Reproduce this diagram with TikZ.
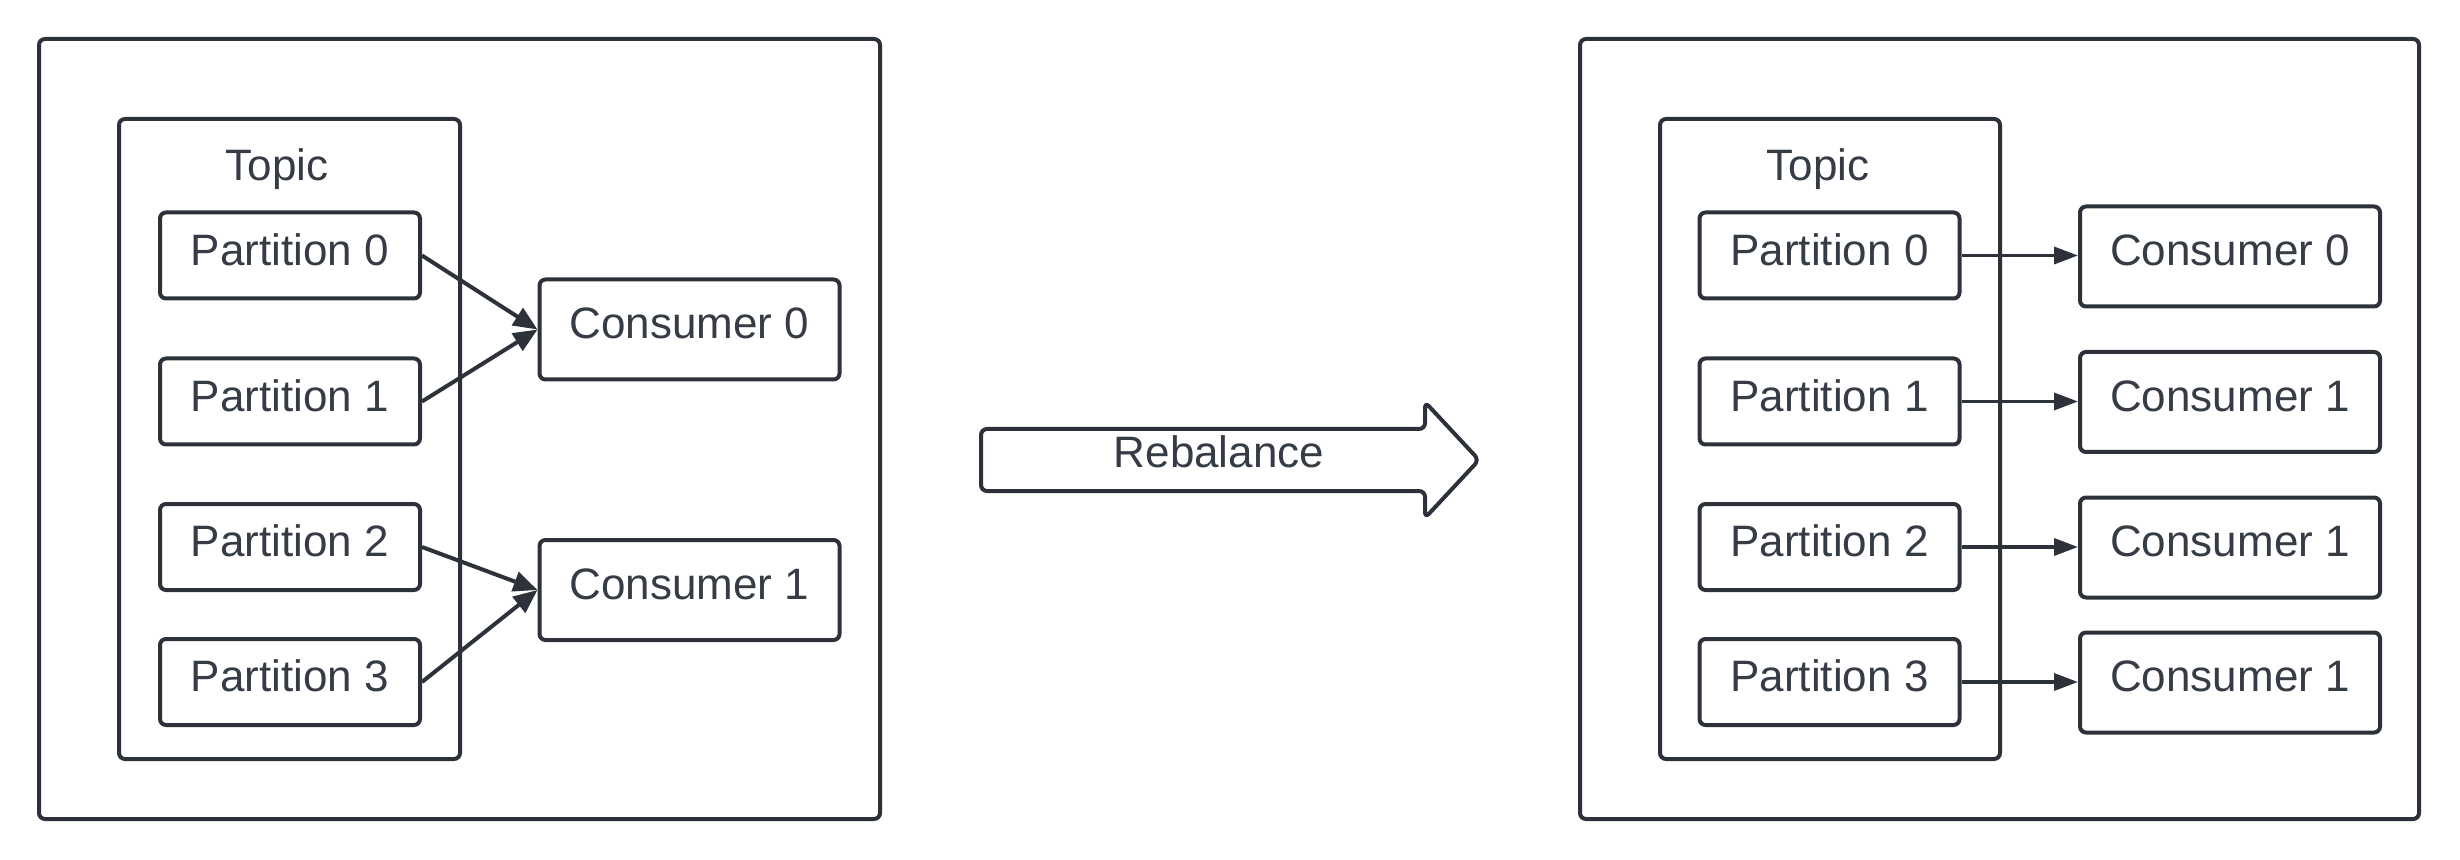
\documentclass[tikz,border=0pt]{standalone}
\usepackage{fontspec}
\setmainfont{Liberation Sans}
\usetikzlibrary{arrows.meta}
\definecolor{ln}{HTML}{2D323A}
\definecolor{tx}{HTML}{363C45}
\begin{document}
\begin{tikzpicture}[x=0.5pt,y=-0.5pt,
  frame/.style={draw=ln, line width=2pt, rounded corners=3pt, inner sep=0pt},
  box/.style={frame, text=tx, font=\fontsize{22}{26}\selectfont, text depth=6pt},
  part/.style={box, minimum width=130pt, minimum height=43pt},
  cons/.style={box, minimum width=150pt, minimum height=50pt},
  conL/.style={draw=ln, line width=2pt, -{Triangle[length=12pt,width=10pt]}},
  conR/.style={draw=ln, line width=1.75pt, -{Triangle[length=12pt,width=8.5pt]}},
  lbl/.style={text=tx, font=\fontsize{22}{26}\selectfont, inner sep=0pt}
]
\useasboundingbox (0,0) rectangle (2460,860);
% left side
\node[frame, minimum width=420.5pt, minimum height=390pt] (outL) at (459.5,429) {};
\node[frame, minimum width=170.5pt, minimum height=320pt] (topL) at (289.5,439) {};
\node[lbl, anchor=base] (tlL) at (277,181) {Topic};
\node[part] (p0) at (290,255.5) {Partition 0};
\node[part] (p1) at (290,401.5) {Partition 1};
\node[part] (p2) at (290,547) {Partition 2};
\node[part] (p3) at (290,682) {Partition 3};
\node[cons] (c0) at (689.5,329.5) {Consumer 0};
\node[cons] (c1) at (689.5,590) {Consumer 1};
\draw[conL] (p0.east) -- (c0.west);
\draw[conL] (p1.east) -- (c0.west);
\draw[conL] (p2.east) -- (c1.west);
\draw[conL] (p3.east) -- (c1.west);
% rebalance arrow
\draw[draw=ln, line width=2pt, rounded corners=3pt, fill=white] (981,429) -- (1425,429) -- (1425,402) -- (1479,460) -- (1425,518) -- (1425,491) -- (981,491) -- cycle;
\node[lbl] (reb) at (1219,452) {Rebalance};
% right side
\node[frame, minimum width=419.5pt, minimum height=390pt] (outR) at (1999.5,429) {};
\node[frame, minimum width=170pt, minimum height=320pt] (topR) at (1830,439) {};
\node[lbl, anchor=base] (tlR) at (1818,181) {Topic};
\node[part] (q0) at (1829.5,255.5) {Partition 0};
\node[part] (q1) at (1829.5,401.5) {Partition 1};
\node[part] (q2) at (1829.5,547) {Partition 2};
\node[part] (q3) at (1829.5,682) {Partition 3};
\node[cons] (d0) at (2230,256.5) {Consumer 0};
\node[cons] (d1) at (2230,402) {Consumer 1};
\node[cons] (d2) at (2230,547.5) {Consumer 1};
\node[cons] (d3) at (2230,682.5) {Consumer 1};
\draw[conR] (q0.east) -- (q0.east -| d0.west);
\draw[conR] (q1.east) -- (q1.east -| d1.west);
\draw[conR] (q2.east) -- (q2.east -| d2.west);
\draw[conR] (q3.east) -- (q3.east -| d3.west);
\end{tikzpicture}
\end{document}
